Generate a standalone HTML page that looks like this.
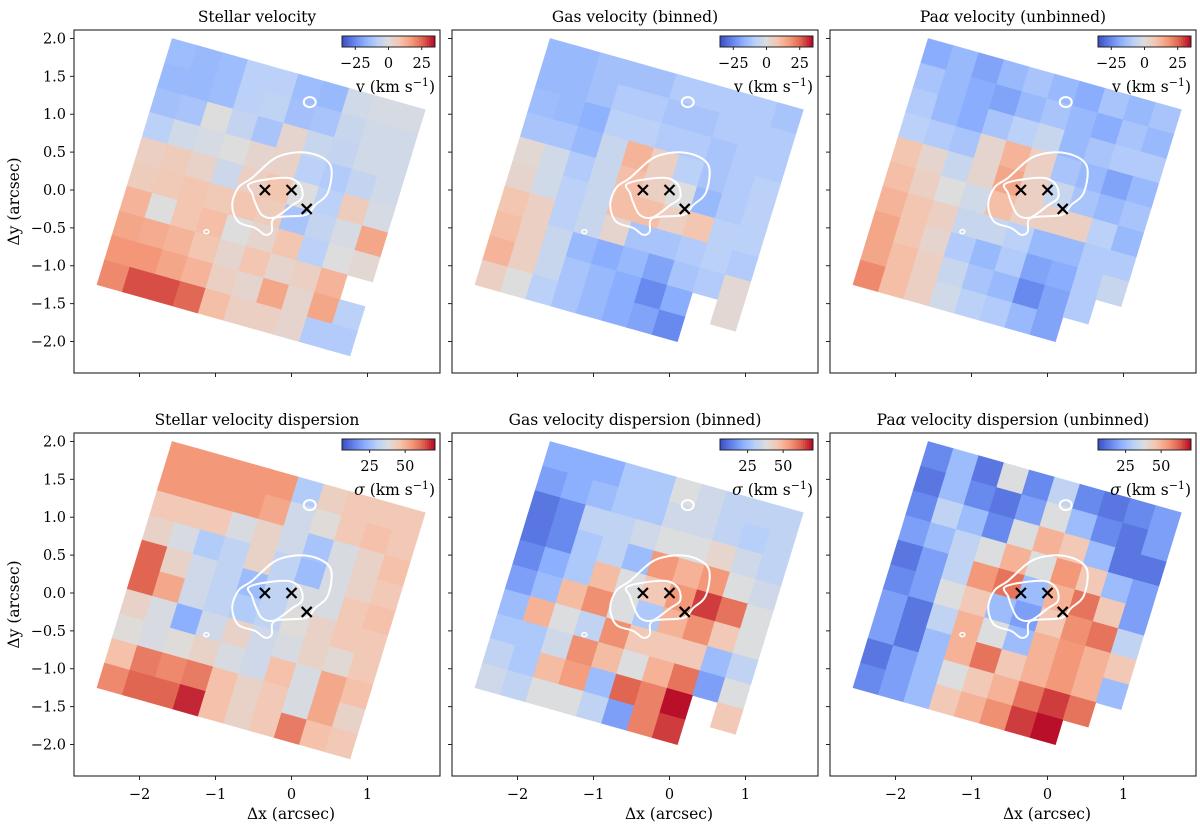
<!DOCTYPE html>
<html><head><meta charset="utf-8"><style>
html,body{margin:0;padding:0;background:#fff;}
svg{display:block;font-family:"DejaVu Serif","Liberation Serif",serif;}
</style></head><body>
<svg id="fig" width="1200" height="831" viewBox="0 0 1200 831" xmlns="http://www.w3.org/2000/svg"></svg>
<script>
// ---- data (10x10 grid over the rotated field of view, rows top->bottom, cols left->right) ----
const stellarV = [
 [-14,-15,-14,-8,-8,-14,-15,-3,-2,-2],
 [-15,-15,-14,-8,-7,-13,-12,-5,-3,-3],
 [-13,-12,0,-6,-12,3,-5,-6,-3,-3],
 [-8,-3,-2,0,3,4,-8,-10,-6,-3],
 [5,6,4,-4,5,8,0,-8,6,-2],
 [6,7,8,7,8,6,-12,-6,-2,15],
 [12,0,8,10,0,3,8,-8,0,2],
 [15,14,12,8,3,8,3,5,12,null],
 [18,18,15,12,5,3,15,3,15,-8],
 [20,28,28,25,10,5,5,3,-10,-10]];
const gasV = [
 [-15,-15,-13,-13,-13,-10,-10,-10,-10,-12],
 [-15,-15,-13,-10,-10,-12,-12,-10,-10,-10],
 [-14,-15,-17,-8,-8,-10,-10,-12,-10,-10],
 [-12,-12,-15,-5,12,5,-8,-12,-10,-8],
 [2,-3,-10,-5,10,5,0,-15,-10,-8],
 [3,-3,-8,-5,10,10,5,8,-8,-8],
 [8,5,-8,-5,3,-12,-12,-10,-8,-10],
 [10,5,-5,-15,-18,-15,-20,-12,-10,2],
 [12,5,-5,-12,-15,-18,-25,-18,null,2],
 [5,0,-8,-12,-15,-18,-20,-25,null,null]];
const paV = [
 [-18,-15,-20,-15,-12,-15,-18,-12,-15,-12],
 [-12,-15,-18,-20,-15,-12,-15,-18,-12,-15],
 [-10,-15,-18,-12,-8,-5,-15,-12,-10,-10],
 [-8,-10,-12,3,12,5,-12,-15,-20,-15],
 [8,3,-5,3,15,5,-5,-12,-15,-12],
 [10,5,0,-3,10,5,5,5,-8,-15],
 [12,8,5,-5,-5,-8,-15,-15,-10,-10],
 [15,8,3,-10,-15,-10,-20,-18,-10,-5],
 [15,10,5,-5,-12,-15,-25,-20,-10,null],
 [20,10,5,-3,-8,-10,-15,-20,null,null]];
const stellarSig = [
 [55,55,55,55,55,29,43,45,45,45],
 [55,55,55,55,52,35,39,45,47,45],
 [45,45,45,37,42,35,27,37,42,47],
 [42,37,29,32,42,32,25,37,42,45],
 [62,42,35,32,25,32,37,37,45,47],
 [62,52,35,32,29,32,39,42,45,45],
 [42,37,22,35,42,35,37,42,40,45],
 [39,37,39,42,37,35,47,37,52,47],
 [47,59,57,59,47,42,45,37,52,42],
 [57,62,62,68,47,42,45,59,47,45]];
const gasSig = [
 [22,22,22,28,28,38,35,32,32,32],
 [19,22,25,28,28,35,35,32,30,32],
 [12,15,32,32,35,38,38,41,35,32],
 [12,15,28,32,25,55,50,55,38,35],
 [15,22,28,48,38,45,55,66,60,38],
 [19,25,48,56,38,28,50,56,45,38],
 [25,50,38,32,56,45,45,45,25,32],
 [28,28,35,56,48,38,50,60,19,38],
 [32,28,48,54,25,62,58,70,null,45],
 [35,32,38,38,32,19,58,66,null,null]];
const paSig = [
 [15,25,12,38,15,32,15,12,15,19],
 [12,25,15,12,19,38,25,15,12,19],
 [15,32,25,15,38,50,45,25,12,12],
 [19,25,32,38,50,38,55,45,25,19],
 [12,19,32,55,60,25,50,60,45,19],
 [15,19,38,45,25,19,45,56,60,32],
 [19,12,32,50,38,25,50,55,50,45],
 [19,12,25,50,60,45,50,55,50,25],
 [12,19,25,38,45,50,60,66,60,null],
 [15,19,25,45,50,56,66,70,null,null]];
const xTicks = [-2,-1,0,1];
const yTicks = [2.0,1.5,1.0,0.5,0.0,-0.5,-1.0,-1.5,-2.0];
const yTickLabels = ["2.0","1.5","1.0","0.5","0.0","\u22120.5","\u22121.0","\u22121.5","\u22122.0"];
const vTicks = [-25,0,25];
const vTickLabels = ["\u221225","0","25"];
const sTicks = [25,50];
const sTickLabels = ["25","50"];
const nucleiX = [-0.35,0,0.2];
const nucleiY = [0,0,-0.25];
const outerCX = [-0.18,0.22,0.51,0.48,0.31,0.18,-0.22,-0.26,-0.35,-0.48,-0.7,-0.78,-0.7,-0.52];
const outerCY = [0.44,0.49,0.33,-0.03,-0.2,-0.33,-0.37,-0.55,-0.59,-0.5,-0.42,-0.2,0.03,0.16];
const innerCX = [-0.57,-0.39,-0.05,0.11,0.14,0.01,-0.22,-0.39,-0.48,-0.52];
const innerCY = [0.07,0.13,0.16,0.07,-0.1,-0.2,-0.36,-0.33,-0.16,-0.04];

// ---- geometry ----
const NS="http://www.w3.org/2000/svg";
const svg=document.getElementById('fig');
function mk(tag,attrs,parent){const e=document.createElementNS(NS,tag);for(const k in attrs)e.setAttribute(k,attrs[k]);(parent||svg).appendChild(e);return e;}
const W=366, H=343, XMIN=-2.862, XMAX=1.954, YMAX=2.112, YMIN=-2.416;
const FOV={x:-1.57,y:2.0,ux:3.33,uy:-0.94,vx:-0.99,vy:-3.25};
const stops=[[59,76,192],[98,130,234],[141,176,254],[184,208,249],[221,221,221],[245,196,173],[244,154,123],[222,96,77],[180,4,38]];
function cmap(t){t=Math.max(0,Math.min(1,t));const f=t*8;const i=Math.min(7,Math.floor(f));const r=f-i;const a=stops[i],b=stops[i+1];
 return 'rgb('+a.map((c,k)=>Math.round(c+(b[k]-c)*r)).join(',')+')';}
function smooth(px,py){const n=px.length;let d='M'+px[0]+','+py[0];
 for(let i=0;i<n;i++){const p0=(i-1+n)%n,p1=i,p2=(i+1)%n,p3=(i+2)%n;
  const c1x=px[p1]+(px[p2]-px[p0])/6,c1y=py[p1]+(py[p2]-py[p0])/6,c2x=px[p2]-(px[p3]-px[p1])/6,c2y=py[p2]-(py[p3]-py[p1])/6;
  d+=' C'+c1x.toFixed(1)+','+c1y.toFixed(1)+' '+c2x.toFixed(1)+','+c2y.toFixed(1)+' '+px[p2].toFixed(1)+','+py[p2].toFixed(1);}
 return d+'Z';}

const panels=[
 {x0:74,y0:30,data:stellarV,vmin:-35,vmax:35,title:'Stellar velocity',kind:'v',name:'stellar-velocity'},
 {x0:452,y0:30,data:gasV,vmin:-35,vmax:35,title:'Gas velocity (binned)',kind:'v',name:'gas-velocity-binned'},
 {x0:830,y0:30,data:paV,vmin:-35,vmax:35,title:'Pa<tspan font-style="italic">α</tspan> velocity (unbinned)',kind:'v',name:'pa-alpha-velocity'},
 {x0:74,y0:433,data:stellarSig,vmin:5.6,vmax:71,title:'Stellar velocity dispersion',kind:'s',name:'stellar-dispersion'},
 {x0:452,y0:433,data:gasSig,vmin:5.6,vmax:71,title:'Gas velocity dispersion (binned)',kind:'s',name:'gas-dispersion-binned'},
 {x0:830,y0:433,data:paSig,vmin:5.6,vmax:71,title:'Pa<tspan font-style="italic">α</tspan> velocity dispersion (unbinned)',kind:'s',name:'pa-alpha-dispersion'}];

panels.forEach((p,pi)=>{
 const sx=x=>p.x0+(x-XMIN)/(XMAX-XMIN)*W;
 const sy=y=>p.y0+(YMAX-y)/(YMAX-YMIN)*H;
 const g=mk('g',{});
 
 
 const t=mk('text',{x:p.x0+W/2,y:p.y0-8,'text-anchor':'middle','font-size':'15.5'},g);
 t.innerHTML=p.title;
 
 
 const cells=mk('g',{},g);
 
 
 const n=p.data.length;
 for(let i=0;i<n;i++)for(let j=0;j<p.data[i].length;j++){
  const val=p.data[i][j]; if(val===null)continue;
  const pt=(u,v)=>{const X=FOV.x+u*FOV.ux+v*FOV.vx,Y=FOV.y+u*FOV.uy+v*FOV.vy;return sx(X).toFixed(1)+','+sy(Y).toFixed(1);};
  const u0=j/10,u1=(j+1)/10,v0=i/n,v1=(i+1)/n;
  const col=cmap((val-p.vmin)/(p.vmax-p.vmin));
  const c=mk('polygon',{points:[pt(u0,v0),pt(u1,v0),pt(u1,v1),pt(u0,v1)].join(' '),fill:col,stroke:col,'stroke-width':'0.6'},cells);
  
  
 }
 const oc=mk('path',{d:smooth(outerCX.map(sx),outerCY.map(sy)),fill:'none',stroke:'#fff','stroke-width':'2'},g);
 
 
 const ic=mk('path',{d:smooth(innerCX.map(sx),innerCY.map(sy)),fill:'none',stroke:'#fff','stroke-width':'2'},g);
 
 
 const sc=mk('ellipse',{cx:sx(0.24),cy:sy(1.16),rx:6,ry:5,fill:'none',stroke:'#fff','stroke-width':'2'},g);
 
 
 const tc=mk('ellipse',{cx:sx(-1.12),cy:sy(-0.55),rx:2.5,ry:2,fill:'none',stroke:'#fff','stroke-width':'1.5'},g);
 
 
 nucleiX.forEach((nx,k)=>{const cx=sx(nx),cy=sy(nucleiY[k]),s=5;
  const m=mk('path',{d:`M${cx-s},${cy-s}L${cx+s},${cy+s}M${cx-s},${cy+s}L${cx+s},${cy-s}`,stroke:'#000','stroke-width':'2.2'},g);
  
  });
 const fr=mk('rect',{x:p.x0,y:p.y0,width:W,height:H,fill:'none',stroke:'#222','stroke-width':'1.1'},g);
 
 
 yTicks.forEach((yv,k)=>{const y=sy(yv);
  const tk=mk('line',{x1:p.x0-4,x2:p.x0,y1:y,y2:y,stroke:'#222','stroke-width':'1'},g);
  
  
  if(pi%3===0){const tl=mk('text',{x:p.x0-8,y:y+5,'text-anchor':'end','font-size':'14.5'},g);tl.textContent=yTickLabels[k];
   
   }});
 xTicks.forEach(xv=>{const x=sx(xv);
  const tk=mk('line',{x1:x,x2:x,y1:p.y0+H,y2:p.y0+H+4,stroke:'#222','stroke-width':'1'},g);
  
  
  if(pi>=3){const tl=mk('text',{x:x,y:p.y0+H+23,'text-anchor':'middle','font-size':'14.5'},g);tl.textContent=(xv<0?'\u2212'+(-xv):''+xv);
   
   }});
 if(pi%3===0){const yl=mk('text',{x:0,y:0,'text-anchor':'middle','font-size':'15.5',transform:`translate(19,${p.y0+H/2}) rotate(-90)`},g);yl.textContent='\u0394y (arcsec)';
  
  }
 if(pi>=3){const xl=mk('text',{x:p.x0+217,y:p.y0+H+43,'text-anchor':'middle','font-size':'15.5'},g);xl.textContent='\u0394x (arcsec)';
  
  }
 const cb=mk('g',{},g);
 
 
 const cbx=p.x0+268,cby=p.y0+6,cbw=93,cbh=11;
 for(let k=0;k<46;k++){mk('rect',{x:cbx+k*cbw/46,y:cby,width:cbw/46+0.4,height:cbh,fill:cmap((k+0.5)/46)},cb);}
 mk('rect',{x:cbx,y:cby,width:cbw,height:cbh,fill:'none',stroke:'#222','stroke-width':'1'},cb);
 const tv=p.kind==='v'?vTicks:sTicks, tl=p.kind==='v'?vTickLabels:sTickLabels;
 tv.forEach((v,k)=>{const x=cbx+(v-p.vmin)/(p.vmax-p.vmin)*cbw;
  mk('line',{x1:x,x2:x,y1:cby+cbh,y2:cby+cbh+3,stroke:'#222','stroke-width':'1'},cb);
  const tt=mk('text',{x:x,y:cby+cbh+21,'text-anchor':'middle','font-size':'14.5'},cb);tt.textContent=tl[k];
  
  });
 const lb=mk('text',{x:cbx+cbw,y:cby+cbh+45,'text-anchor':'end','font-size':'15.5'},cb);
 lb.innerHTML=(p.kind==='v'?'v':'<tspan font-style="italic">σ</tspan>')+' (km s<tspan dy="-6" font-size="11">\u22121</tspan><tspan dy="6">)</tspan>';
 
 
});
</script>
</body></html>
